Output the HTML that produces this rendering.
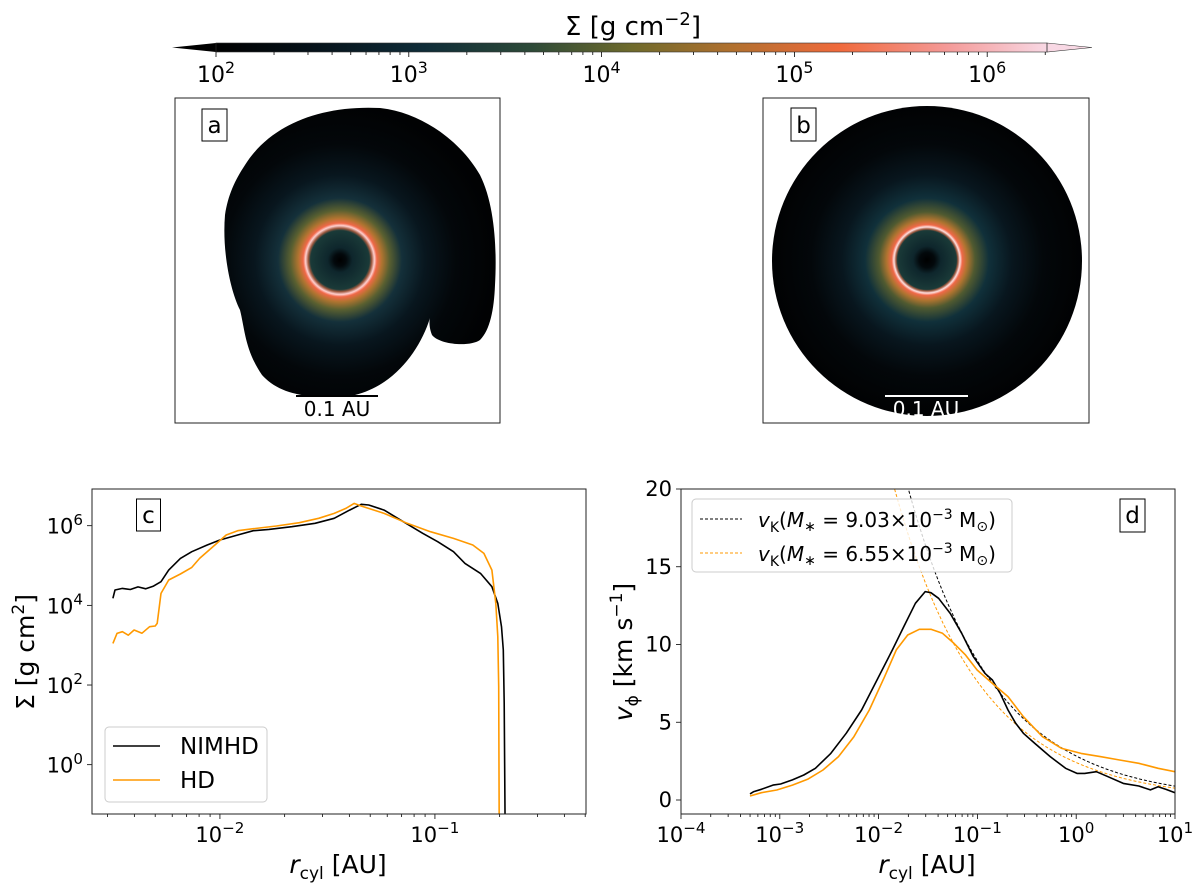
<!DOCTYPE html>
<html><head><meta charset="utf-8"><style>
body{margin:0;background:#fff;}
svg{display:block;font-family:"DejaVu Sans","Liberation Sans",sans-serif;}
</style></head><body>
<svg id="fig" width="1200" height="888" viewBox="0 0 1200 888">
<defs>
<linearGradient id="cmap" x1="0" x2="1" y1="0" y2="0">
<stop offset="0" stop-color="#000000"/><stop offset="0.12" stop-color="#06121a"/>
<stop offset="0.25" stop-color="#0f2c38"/><stop offset="0.38" stop-color="#2d4a38"/>
<stop offset="0.5" stop-color="#6e6a2c"/><stop offset="0.62" stop-color="#b0702e"/>
<stop offset="0.75" stop-color="#f06a3c"/><stop offset="0.88" stop-color="#f49a98"/>
<stop offset="1" stop-color="#f8d8e4"/></linearGradient>
<radialGradient id="diskA" gradientUnits="userSpaceOnUse" cx="340" cy="260" r="155">
<stop offset="0" stop-color="#000"/><stop offset="0.04" stop-color="#03090c"/>
<stop offset="0.08" stop-color="#0e262c"/><stop offset="0.19" stop-color="#1a3a38"/>
<stop offset="0.205" stop-color="#a05a40"/><stop offset="0.222" stop-color="#ffd0d0"/>
<stop offset="0.238" stop-color="#f06848"/><stop offset="0.27" stop-color="#b07430"/>
<stop offset="0.32" stop-color="#5a6030"/><stop offset="0.4" stop-color="#14303a"/>
<stop offset="0.55" stop-color="#08161e"/><stop offset="0.75" stop-color="#03070a"/>
<stop offset="1" stop-color="#010203"/></radialGradient>
<radialGradient id="diskB" gradientUnits="userSpaceOnUse" cx="927" cy="260" r="155">
<stop offset="0" stop-color="#000"/><stop offset="0.05" stop-color="#03090c"/>
<stop offset="0.09" stop-color="#0e262c"/><stop offset="0.19" stop-color="#1a3a38"/>
<stop offset="0.2" stop-color="#a05a40"/><stop offset="0.213" stop-color="#ffe0e0"/>
<stop offset="0.228" stop-color="#f06848"/><stop offset="0.26" stop-color="#b07430"/>
<stop offset="0.31" stop-color="#505a30"/><stop offset="0.4" stop-color="#10303a"/>
<stop offset="0.55" stop-color="#08161e"/><stop offset="0.75" stop-color="#03070a"/>
<stop offset="1" stop-color="#010203"/></radialGradient>
<clipPath id="clipC"><rect x="92" y="489" width="494" height="325"/></clipPath>
<clipPath id="clipD"><rect x="681" y="489" width="494" height="325"/></clipPath>
</defs>

<g>
<polygon points="172,47.5 216,43 216,52" fill="#000"/>
<rect x="216" y="43" width="831" height="9" fill="url(#cmap)"/>
<polygon points="1047,43 1092,47.5 1047,52" fill="#f8d8e4" stroke="#333" stroke-width="0.6"/>
<rect x="216" y="43" width="831" height="9" fill="none" stroke="#333" stroke-width="0.6"/>
<g id="cbTicks"></g>
<text x="633" y="35" font-size="26" text-anchor="middle">Σ [g cm<tspan dy="-10" font-size="18">−2</tspan><tspan dy="10">]</tspan></text>
</g>

<g>
<rect x="175" y="98" width="325" height="325" fill="#fff" stroke="#222" stroke-width="1"/>
<path fill="url(#diskA)" d="M245,165 C270,125 320,105 380,108 C420,112 460,140 480,175 C495,205 497,250 495,285 C494,310 490,330 480,340 C470,347 440,345 432,335 C428,325 430,318 430,318 C420,350 395,385 355,395 C310,400 280,395 262,375 C245,350 245,330 240,310 C230,290 222,250 225,215 C228,195 235,180 245,165 Z"/>
<rect x="202" y="109" width="25" height="32" fill="#fff" stroke="#000" stroke-width="1"/>
<text x="214.5" y="133" font-size="23" text-anchor="middle">a</text>
<line x1="296" y1="396" x2="378" y2="396" stroke="#000" stroke-width="2"/>
<text x="337" y="416" font-size="20" text-anchor="middle">0.1 AU</text>
</g>

<g>
<rect x="763" y="98" width="326" height="325" fill="#fff" stroke="#222" stroke-width="1"/>
<circle cx="927" cy="261" r="155" fill="url(#diskB)"/>
<rect x="791" y="108" width="25" height="33" fill="#fff" stroke="#000" stroke-width="1"/>
<text x="803.5" y="133" font-size="23" text-anchor="middle">b</text>
<line x1="885" y1="396" x2="968" y2="396" stroke="#fff" stroke-width="2"/>
<text x="926" y="416" font-size="20" fill="#fff" text-anchor="middle">0.1 AU</text>
</g>

<g id="panelC">
<g id="cAxes"></g>
<g clip-path="url(#clipC)" id="cLines"></g>
<rect x="92" y="489" width="494" height="325" fill="none" stroke="#222" stroke-width="1"/>
<rect x="136.5" y="499" width="24" height="32" fill="#fff" stroke="#000" stroke-width="1"/>
<text x="148.5" y="523" font-size="23" text-anchor="middle">c</text>
<g>
<rect x="105" y="727" width="162" height="75" rx="4" fill="#fff" fill-opacity="0.8" stroke="#ccc"/>
<line x1="113" y1="746" x2="160" y2="746" stroke="#000" stroke-width="1.5"/>
<text x="180" y="754" font-size="23">NIMHD</text>
<line x1="113" y1="780" x2="160" y2="780" stroke="#ff9900" stroke-width="1.5"/>
<text x="180" y="788" font-size="23">HD</text>
</g>
<text x="338" y="873" font-size="25" text-anchor="middle"><tspan font-style="italic">r</tspan><tspan dy="6" font-size="17">cyl</tspan><tspan dy="-6"> [AU]</tspan></text>
<text transform="translate(34,652) rotate(-90)" font-size="25" text-anchor="middle">Σ [g cm<tspan dy="-10" font-size="17">2</tspan><tspan dy="10">]</tspan></text>
</g>

<g id="panelD">
<g id="dAxes"></g>
<g clip-path="url(#clipD)" id="dLines"></g>
<rect x="681" y="489" width="494" height="325" fill="none" stroke="#222" stroke-width="1"/>
<rect x="1120" y="499" width="25" height="33" fill="#fff" stroke="#000" stroke-width="1"/>
<text x="1132.5" y="523" font-size="23" text-anchor="middle">d</text>
<g>
<rect x="692" y="499" width="320" height="73" rx="4" fill="#fff" fill-opacity="0.8" stroke="#ccc"/>
<line x1="700" y1="519" x2="742" y2="519" stroke="#000" stroke-width="1" stroke-dasharray="3,2"/>
<text x="758" y="527" font-size="20"><tspan font-style="italic">v</tspan><tspan dy="5" font-size="14">K</tspan><tspan dy="-5">(</tspan><tspan font-style="italic">M</tspan><tspan dy="4" font-size="14">∗</tspan><tspan dy="-4"> =  9.03×10</tspan><tspan dy="-8" font-size="14">−3</tspan><tspan dy="8"> M</tspan><tspan dy="4" font-size="14">⊙</tspan><tspan dy="-4">)</tspan></text>
<line x1="700" y1="553" x2="742" y2="553" stroke="#ff9900" stroke-width="1" stroke-dasharray="3,2"/>
<text x="758" y="561" font-size="20"><tspan font-style="italic">v</tspan><tspan dy="5" font-size="14">K</tspan><tspan dy="-5">(</tspan><tspan font-style="italic">M</tspan><tspan dy="4" font-size="14">∗</tspan><tspan dy="-4"> =  6.55×10</tspan><tspan dy="-8" font-size="14">−3</tspan><tspan dy="8"> M</tspan><tspan dy="4" font-size="14">⊙</tspan><tspan dy="-4">)</tspan></text>
</g>
<text x="927" y="873" font-size="25" text-anchor="middle"><tspan font-style="italic">r</tspan><tspan dy="6" font-size="17">cyl</tspan><tspan dy="-6"> [AU]</tspan></text>
<text transform="translate(632,652) rotate(-90)" font-size="25" text-anchor="middle"><tspan font-style="italic">v</tspan><tspan dy="6" font-size="17">ϕ</tspan><tspan dy="-6"> [km s</tspan><tspan dy="-10" font-size="17">−1</tspan><tspan dy="10">]</tspan></text>
</g>
</svg>
<script>
// Panel c data
const cNimhdR = [0.00318,0.00325,0.00352,0.00383,0.00416,0.00452,0.00491,0.00532,0.00578,0.00655,0.0074,0.00873,0.01,0.0121,0.0143,0.0169,0.0216,0.0277,0.034,0.0401,0.0454,0.0492,0.058,0.0713,0.0877,0.103,0.122,0.138,0.163,0.184,0.196,0.204,0.208,0.21,0.212];
const cNimhdSigma = [1.5e4,2.43e4,2.67e4,2.5e4,2.9e4,2.6e4,3.05e4,3.93e4,7.7e4,1.51e5,2.22e5,3.27e5,4.37e5,5.83e5,7.48e5,8.09e5,9.44e5,1.15e6,1.53e6,2.47e6,3.44e6,3.3e6,2.47e6,1.26e6,6.43e5,3.96e5,2.22e5,1.13e5,6.35e4,2.94e4,1.12e4,2.91e3,757,34.7,0.03];
const cHdR = [0.00318,0.00332,0.00352,0.00375,0.00399,0.00434,0.00471,0.005,0.00511,0.00532,0.00578,0.00655,0.0074,0.00804,0.00948,0.0107,0.0121,0.0143,0.0183,0.0234,0.0288,0.034,0.0385,0.0421,0.0454,0.058,0.0743,0.0953,0.122,0.15,0.169,0.184,0.192,0.196,0.198,0.199];
const cHdSigma = [1.11e3,1.98e3,2.18e3,1.78e3,2.4e3,2.0e3,2.91e3,3.03e3,3.53e3,2.0e4,4.33e4,6.12e4,9.0e4,1.51e5,3.27e5,5.83e5,7.48e5,8.41e5,9.82e5,1.19e6,1.53e6,2.04e6,2.72e6,3.64e6,3.12e6,2.04e6,1.15e6,7.06e5,4.81e5,3.27e5,2.02e5,7.7e4,1.12e4,1.63e3,90.8,0.03];
const cXTicks = [-2,-1];
const cYTicks = [0,2,4,6];
// Panel d data
const dNimhdR = [0.000499,0.000546,0.000652,0.000853,0.00102,0.00134,0.00175,0.00229,0.00328,0.0047,0.00673,0.00964,0.0138,0.018,0.0236,0.0296,0.0338,0.0405,0.053,0.0693,0.0908,0.119,0.142,0.17,0.204,0.244,0.292,0.381,0.546,0.782,1.02,1.22,1.6,2.1,3.0,4.3,5.64,6.75,8.05,10];
const dNimhdV = [0.39,0.54,0.69,0.96,1.03,1.29,1.61,2.04,3.0,4.29,5.79,7.72,9.65,11.15,12.65,13.4,13.33,12.97,12.0,10.72,9.22,8.15,7.72,6.86,5.79,4.93,4.29,3.64,2.79,2.04,1.71,1.71,1.82,1.5,1.07,0.9,0.65,0.85,0.69,0.47];
const dHdR = [0.000499,0.000652,0.000933,0.00134,0.00191,0.00274,0.00393,0.00562,0.00805,0.0115,0.0151,0.0197,0.0258,0.0338,0.0443,0.0579,0.0759,0.0993,0.142,0.204,0.292,0.456,0.714,1.12,1.75,2.75,4.3,6.75,10];
const dHdV = [0.26,0.47,0.64,0.96,1.33,1.93,2.79,4.07,5.79,7.93,9.65,10.61,10.98,10.98,10.72,10.07,9.32,8.36,7.5,6.65,5.36,4.07,3.32,3.0,2.79,2.57,2.36,2.04,1.82];
const dStarMass = [9.03e-3, 6.55e-3];
const dXTicks = [-4,-3,-2,-1,0,1];
const dYTicks = [0,5,10,15,20];
const cbTicks = [2,3,4,5,6];

const NS="http://www.w3.org/2000/svg";
function mk(tag, attrs, parent){const e=document.createElementNS(NS,tag);for(const k in attrs)e.setAttribute(k,attrs[k]);parent.appendChild(e);return e;}
function powLabel(parent,x,y,exp,size){
  const t=mk('text',{x:x,y:y,'font-size':size,'text-anchor':'middle'},parent);
  
  
  t.appendChild(document.createTextNode('10'));
  const s=document.createElementNS(NS,'tspan');s.setAttribute('dy',-size*0.42);s.setAttribute('font-size',size*0.72);
  s.textContent=(exp<0?'−'+(-exp):String(exp));t.appendChild(s);
  return t;
}
const cbX = e => 216 + (e-2)*192.8;
const cbg=document.getElementById('cbTicks');
for(let e=2;e<=6;e++){
  for(let m=1;m<=9;m++){const x=cbX(e+Math.log10(m)); if(x>1047)break;
    mk('line',{x1:x,y1:52,x2:x,y2:m===1?57:55,stroke:'#000','stroke-width':0.8},cbg);}
}
cbTicks.forEach(e=>powLabel(cbg,cbX(e),82,e,22));

const cx = r => 92 + (Math.log10(r)+2.595)*215;
const cy = s => 525.7 - (Math.log10(s)-6)*39.83;
const ca=document.getElementById('cAxes');
for(let e=-3;e<=-1;e++)for(let m=1;m<=9;m++){const r=m*Math.pow(10,e);const x=cx(r);if(x<92||x>586)continue;
  mk('line',{x1:x,y1:814,x2:x,y2:m===1?819:817,stroke:'#000','stroke-width':0.8},ca);}
cXTicks.forEach(e=>powLabel(ca,cx(Math.pow(10,e)),842,e,21));
cYTicks.forEach(e=>{const y=cy(Math.pow(10,e));mk('line',{x1:87,y1:y,x2:92,y2:y,stroke:'#000','stroke-width':0.8},ca);
  const t=powLabel(ca,0,y+8,e,21);t.setAttribute('text-anchor','end');t.setAttribute('x',83);});
const cl=document.getElementById('cLines');
function poly(parent,xs,ys,fx,fy,color,w,dash,name){
  const d=xs.map((v,i)=>(i?'L':'M')+fx(v).toFixed(1)+','+fy(ys[i]).toFixed(1)).join('');
  const p=mk('path',{d:d,fill:'none',stroke:color,'stroke-width':w,'stroke-linejoin':'round'},parent);
  if(dash)p.setAttribute('stroke-dasharray',dash);
  
  
}
poly(cl,cNimhdR,cNimhdSigma,cx,cy,'#000',1.6,null,'nimhd-sigma-line');
poly(cl,cHdR,cHdSigma,cx,cy,'#ff9900',1.6,null,'hd-sigma-line');

const dx = r => 681 + (Math.log10(r)+4)*98.8;
const dy = v => 800 - v*15.55;
const da=document.getElementById('dAxes');
for(let e=-4;e<=1;e++)for(let m=1;m<=9;m++){const r=m*Math.pow(10,e);const x=dx(r);if(x>1175.5)continue;
  mk('line',{x1:x,y1:814,x2:x,y2:m===1?819:817,stroke:'#000','stroke-width':0.8},da);}
dXTicks.forEach(e=>powLabel(da,dx(Math.pow(10,e)),842,e,21));
dYTicks.forEach(v=>{const y=dy(v);mk('line',{x1:676,y1:y,x2:681,y2:y,stroke:'#000','stroke-width':0.8},da);
  const t=mk('text',{x:672,y:y+7,'font-size':21,'text-anchor':'end'},da);
  
  
  t.textContent=v;});
const dl=document.getElementById('dLines');
const kColors=['#000','#ff9900'];
dStarMass.forEach((M,k)=>{const rs=[],vs=[];for(let i=0;i<=120;i++){const r=Math.pow(10,-2.2+i*3.2/120);rs.push(r);vs.push(29.78*Math.sqrt(M/r));}
  poly(dl,rs,vs,dx,dy,kColors[k],1,'3,2',k?'vk-hd-dashed':'vk-nimhd-dashed');});
poly(dl,dNimhdR,dNimhdV,dx,dy,'#000',1.6,null,'nimhd-vphi-line');
poly(dl,dHdR,dHdV,dx,dy,'#ff9900',1.6,null,'hd-vphi-line');
</script>
</body></html>
